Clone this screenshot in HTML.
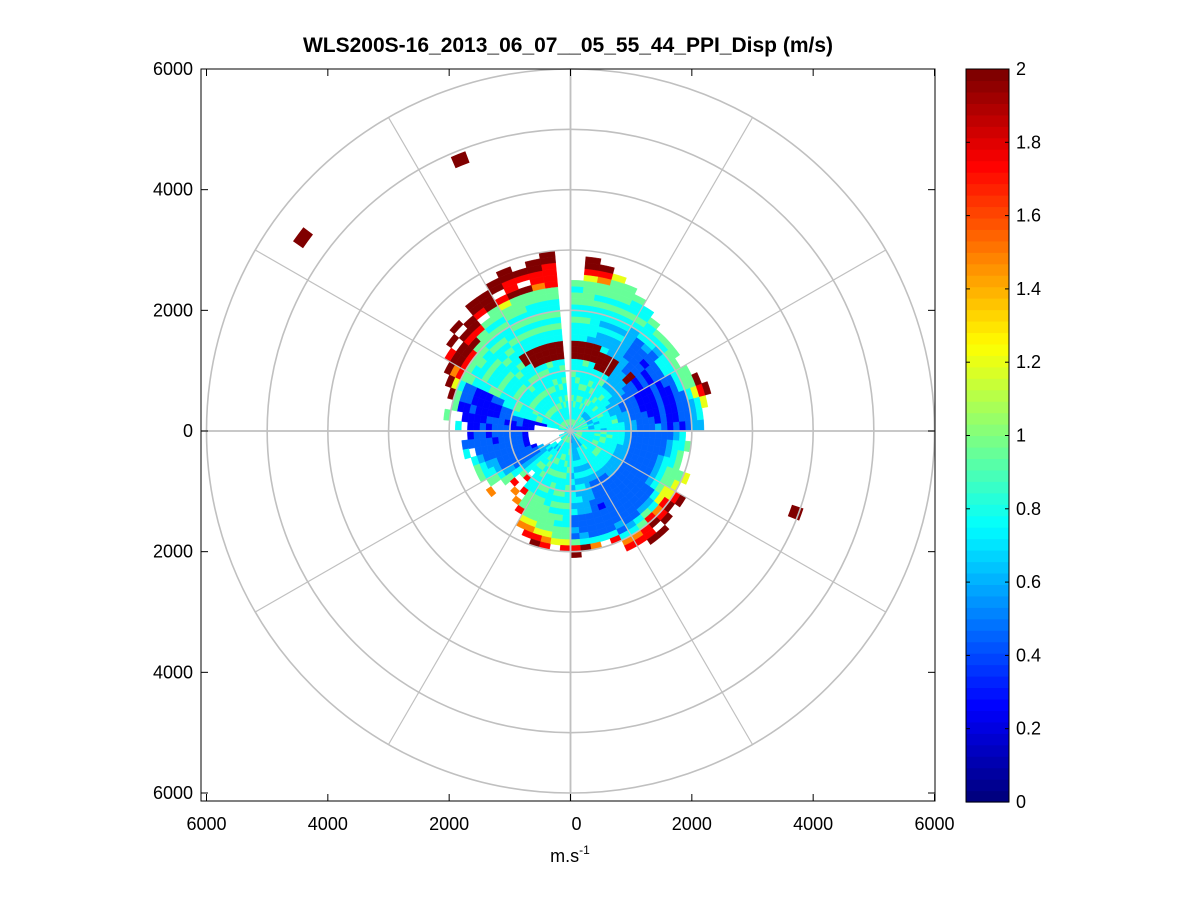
<!DOCTYPE html>
<html><head><meta charset="utf-8"><style>
body{margin:0;background:#fff;}
svg{display:block;font-family:"Liberation Sans",sans-serif;}
</style></head><body>
<svg id="chart" width="1201" height="901" viewBox="0 0 1201 901">
<rect width="1201" height="901" fill="#fff"/>
<text x="568" y="52" font-size="21" font-weight="bold" text-anchor="middle">WLS200S-16_2013_06_07__05_55_44_PPI_Disp (m/s)</text>
<g id="cells"></g>
<g id="grid"></g>
<rect x="201" y="69" width="734" height="732" fill="none" stroke="#000" stroke-width="1"/>
<g id="ticks"></g>
<text x="570" y="862" font-size="18" text-anchor="middle">m.s<tspan font-size="12" dy="-8">-1</tspan></text>
<g id="cbar"></g>
</svg>
<script>
// Data: rays every 5° (math angle, 0=east, CCW), gates 100 m; digit => levelValues[d] m/s, '.' = no data
const levelValues = [0.08,0.28,0.45,0.62,0.78,0.95,1.2,1.5,1.75,2.0];
const azimuths = [0,5,10,15,20,25,30,35,40,45,50,55,60,65,70,75,80,85,90,95,100,105,110,115,120,125,130,135,140,145,150,155,160,165,170,175,180,185,190,195,200,205,210,215,220,225,230,235,240,245,250,255,260,265,270,275,280,285,290,295,300,305,310,315,320,325,330,335,340,345,350,355];
const gateRows = [
"4454434443322232121233","4543444443322212112234","44534445332221121122346","454434443322111211224689",
"44534443322211121124559","4543454332221112122455","454344433322212122445","4453444433322121224455",
"4543454443339922122345","4453444543333222223445","45434454433333322224445","445445444549993333334544",
"4544454544499933343445445","45445444544999433434454555","454445454444999334344545556","4544454544459993444445455789",
"45445444544499944454455556899","4544454445449994445445545","","454445445454999445454455888899",
"45445445444499944545445578899","4544454454459994454544559.89","45445445445499944545455598899","4544544544549994454545568.99",
"454454454454499445445455999","45445445445445445454545.899","4544544545445445445455899","454454454454454454455989.9",
"45445445445445445455899.9","454454454454454454458998","44544454454445544455879","4544454445442211122469",
"454445444422111112259","44441111222211112115","44....112112221111..5","4.....11112221211.4",
"4......1222221221","4......12222122222","4......122222222.4","4......1222222234",
".4....12222223345","4....322222223445","4...332222233455","44.44333334455..7",
"44.43444445.8","454344454.8..7","4544454544448.7","4543445454445558",
"454445454454555567","4544454544545555678","45445445454445555689","45445445445454555678",
"4544454544545454556","24454454454454445568","224444434344342232589","22333434343433222349",
"23333434343333222247","3333343433332222224","33344434322221222248","3334443432222222232478",
"3334444432222222223478","33344444322222222245889","444544443322222223589.9","4544454433222222234789",
"454445443322222224689","4544454433222223456689","45445444332222234556","454454443322222345556",
"4544454433222223445","4544454443222222345","45445454432222223445","4544454443222222234"];
const outlierAngles = [112,144,340];
const outlierRanges = [4850,5450,3950];
const outlierValues = [2,2,2];
const xTickValues = [-6000,-4000,-2000,0,2000,4000,6000];
const xTickLabels = ["6000","4000","2000","0","2000","4000","6000"];
const yTickValues = [6000,4000,2000,0,-2000,-4000,-6000];
const yTickLabels = ["6000","4000","2000","0","2000","4000","6000"];
const cbarTicks = [0,0.2,0.4,0.6,0.8,1,1.2,1.4,1.6,1.8,2];
const cbarLabels = ["0","0.2","0.4","0.6","0.8","1","1.2","1.4","1.6","1.8","2"];

const NS="http://www.w3.org/2000/svg";
const cx=570.5, cy=431, kx=364/6000, ky=362/6000;
const X = v => cx + v*kx;
const Y = v => cy - v*ky;
function jet(t){
  t=Math.max(0,Math.min(1,t));
  t=Math.floor(t*63.999)/63;
  const r=Math.max(0,Math.min(1,1.5-Math.abs(4*t-3)));
  const g=Math.max(0,Math.min(1,1.5-Math.abs(4*t-2)));
  const b=Math.max(0,Math.min(1,1.5-Math.abs(4*t-1)));
  return `rgb(${Math.round(r*255)},${Math.round(g*255)},${Math.round(b*255)})`;
}
function pt(a,r){const t=a*Math.PI/180;return [X(r*Math.cos(t)),Y(r*Math.sin(t))];}
function sector(a0,a1,r0,r1){
  const p1=pt(a0,r0),p2=pt(a0,r1),p3=pt(a1,r1),p4=pt(a1,r0);
  return `M${p1[0].toFixed(1)},${p1[1].toFixed(1)}L${p2[0].toFixed(1)},${p2[1].toFixed(1)}A${(r1*kx).toFixed(1)},${(r1*ky).toFixed(1)} 0 0 0 ${p3[0].toFixed(1)},${p3[1].toFixed(1)}L${p4[0].toFixed(1)},${p4[1].toFixed(1)}A${(r0*kx).toFixed(1)},${(r0*ky).toFixed(1)} 0 0 1 ${p1[0].toFixed(1)},${p1[1].toFixed(1)}Z`;
}
const cells=document.getElementById('cells');
azimuths.forEach((az,i)=>{
  const row=gateRows[i];
  for(let g=0;g<row.length;g++){
    const c=row[g]; if(c==='.'||c===' ')continue;
    const v=levelValues[parseInt(c)];
    const p=document.createElementNS(NS,'path');
    p.setAttribute('d',sector(az,az+5,g*100,(g+1)*100));
    p.setAttribute('fill',jet(v/2));
    p.setAttribute('stroke',jet(v/2));
    p.setAttribute('stroke-width','0.4');
    
    
    cells.appendChild(p);
  }
});
outlierAngles.forEach((a,i)=>{
  const p=document.createElementNS(NS,'path');
  p.setAttribute('d',sector(a-1.5,a+1.5,outlierRanges[i]-100,outlierRanges[i]+100));
  p.setAttribute('fill',jet(outlierValues[i]/2));
  
  
  cells.appendChild(p);
});
const grid=document.getElementById('grid');
for(let r=1000;r<=6000;r+=1000){
  const e=document.createElementNS(NS,'ellipse');
  e.setAttribute('cx',cx);e.setAttribute('cy',cy);e.setAttribute('rx',r*kx);e.setAttribute('ry',r*ky);
  e.setAttribute('fill','none');e.setAttribute('stroke','#c0c0c0');e.setAttribute('stroke-width','1.6');
  
  
  grid.appendChild(e);
}
for(let a=0;a<360;a+=30){
  const p=pt(a,6000);
  const l=document.createElementNS(NS,'line');
  l.setAttribute('x1',cx);l.setAttribute('y1',cy);l.setAttribute('x2',p[0]);l.setAttribute('y2',p[1]);
  l.setAttribute('stroke','#c0c0c0');l.setAttribute('stroke-width',(a%90===0)?'1.6':'1.2');
  
  
  grid.appendChild(l);
}
[[201,cy,935,cy],[cx,69,cx,801]].forEach(c=>{
  const l=document.createElementNS(NS,'line');
  l.setAttribute('x1',c[0]);l.setAttribute('y1',c[1]);l.setAttribute('x2',c[2]);l.setAttribute('y2',c[3]);
  l.setAttribute('stroke','#c0c0c0');l.setAttribute('stroke-width','1.6');
  
  
  grid.appendChild(l);
});
const ticks=document.getElementById('ticks');
function addLine(par,x1,y1,x2,y2,name){
  const l=document.createElementNS(NS,'line');
  l.setAttribute('x1',x1);l.setAttribute('y1',y1);l.setAttribute('x2',x2);l.setAttribute('y2',y2);
  l.setAttribute('stroke','#000');l.setAttribute('stroke-width','1');
  
  
  par.appendChild(l);
}
function addText(par,x,y,s,anchor,name){
  const t=document.createElementNS(NS,'text');
  t.setAttribute('x',x);t.setAttribute('y',y);t.setAttribute('font-size','18');t.setAttribute('text-anchor',anchor);
  t.textContent=s;
  
  
  par.appendChild(t);
}
xTickValues.forEach((v,i)=>{
  let x=Math.max(201,Math.min(935,X(v)));
  addLine(ticks,x,801,x,794,'x-tick');
  addLine(ticks,x,69,x,76,'x-tick-top');
  addText(ticks,x+(v===0?6:0),830,xTickLabels[i],'middle','x-tick-label');
});
yTickValues.forEach((v,i)=>{
  let y=Math.max(69,Math.min(801,Y(v)));
  addLine(ticks,201,y,208,y,'y-tick');
  addLine(ticks,935,y,928,y,'y-tick-right');
  addText(ticks,193,y+6,yTickLabels[i],'end','y-tick-label');
});
const cb=document.getElementById('cbar');
const cbx=966,cbw=43,cbt=69,cbb=802;
const CY=v=>cbb-(v/2)*(cbb-cbt);
for(let k=0;k<64;k++){
  const r=document.createElementNS(NS,'rect');
  const y0=cbb-(k+1)*(cbb-cbt)/64;
  r.setAttribute('x',cbx);r.setAttribute('y',y0);r.setAttribute('width',cbw);r.setAttribute('height',(cbb-cbt)/64+0.6);
  r.setAttribute('fill',jet(k/63));
  
  
  cb.appendChild(r);
}
const fr=document.createElementNS(NS,'rect');
fr.setAttribute('x',cbx);fr.setAttribute('y',cbt);fr.setAttribute('width',cbw);fr.setAttribute('height',cbb-cbt);
fr.setAttribute('fill','none');fr.setAttribute('stroke','#000');


cb.appendChild(fr);
cbarTicks.forEach((v,i)=>{
  const y=CY(v);
  addLine(cb,cbx,y,cbx+4,y,'colorbar-tick');
  addLine(cb,cbx+cbw,y,cbx+cbw-4,y,'colorbar-tick');
  addText(cb,1016,y+6,cbarLabels[i],'start','colorbar-label');
});
</script>
</body></html>
